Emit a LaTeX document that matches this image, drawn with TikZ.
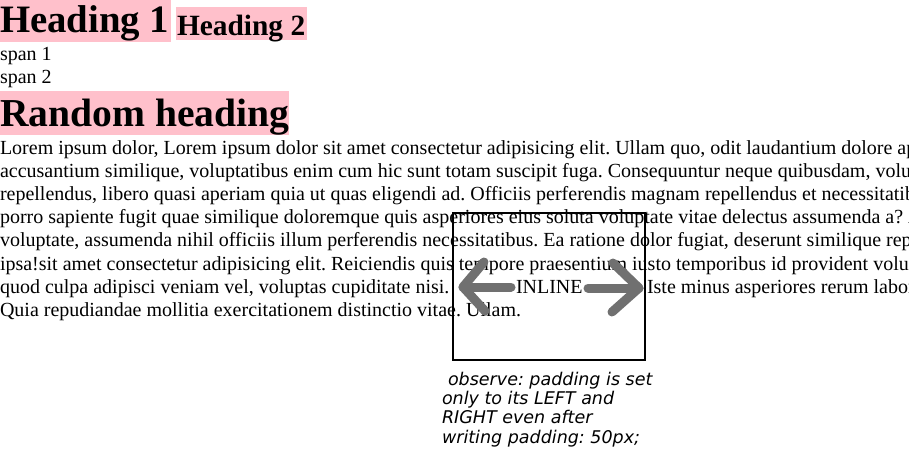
\documentclass[tikz,border=0pt]{standalone}
\usepackage{fontspec}
\setmainfont{Liberation Serif}
\newfontfamily\handfont{DejaVu Sans}
\definecolor{hdpink}{RGB}{255,192,203}
\definecolor{arrowgray}{RGB}{112,112,112}
\frenchspacing
\begin{document}
\begin{tikzpicture}[x=1pt,y=-1pt,
  txt/.style={anchor=base west,inner sep=0pt,outer sep=0pt,font=\fontsize{20}{23}\selectfont},
  hone/.style={anchor=base west,inner sep=0pt,outer sep=0pt,font=\fontsize{38.8}{44}\selectfont\bfseries},
  hrand/.style={anchor=base west,inner sep=0pt,outer sep=0pt,font=\fontsize{39.6}{44}\selectfont\bfseries},
  htwo/.style={anchor=base west,inner sep=0pt,outer sep=0pt,font=\fontsize{29.4}{33}\selectfont\bfseries},
  arr/.style={draw=arrowgray,line width=9pt,line cap=round,line join=round},
  note/.style={anchor=base west,inner sep=0pt,outer sep=0pt,font=\handfont\itshape\fontsize{17.5}{19.5}\selectfont}]
\useasboundingbox (0,0) rectangle (909,470);
\clip (0,0) rectangle (909,470);
% headings
\fill[hdpink] (0,0) rectangle (171,42);
\node[hone] (h1) at (0,33) {Heading 1};
\fill[hdpink] (176,7) rectangle (307,40);
\node[htwo] (h2) at (177,35.5) {Heading 2};
\node[txt] (s1) at (0,61) {span 1};
\node[txt] (s2) at (0,84) {span 2};
\fill[hdpink] (0,91) rectangle (289,135);
\node[hrand] (rh) at (0,127) {Random heading};
% paragraph
\node[txt] (l1) at (0,155) {Lorem ipsum dolor, Lorem ipsum dolor sit amet consectetur adipisicing elit. Ullam quo, odit laudantium dolore ap};
\node[txt] (l2) at (0,178) {accusantium similique, voluptatibus enim cum hic sunt totam suscipit fuga. Consequuntur neque quibusdam, volup};
\node[txt] (l3) at (0,201) {repellendus, libero quasi aperiam quia ut quas eligendi ad. Officiis perferendis magnam repellendus et necessitatib};
\node[txt] (l4) at (0,224) {porro sapiente fugit quae similique doloremque quis asperiores eius soluta voluptate vitae delectus assumenda a? A};
\node[txt] (l5) at (0,247) {voluptate, assumenda nihil officiis illum perferendis necessitatibus. Ea ratione dolor fugiat, deserunt similique rep};
\node[txt] (l6) at (0,270) {ipsa!sit amet consectetur adipisicing elit. Reiciendis quis tempore praesentium iusto temporibus id provident volup};
\node[txt] (l7a) at (0,293) {quod culpa adipisci veniam vel, voluptas cupiditate nisi.};
\node[txt] (inl) at (516,293) {INLINE};
\node[txt] (l7b) at (647,293) {Iste minus asperiores rerum labor};
\node[txt] (l8) at (0,316) {Quia repudiandae mollitia exercitationem distinctio vitae. Ullam.};
% inline box
\draw[line width=2pt] (453,213) rectangle (645,360);
% arrows
\draw[arr] (511,287) -- (463,287);
\draw[arr] (484,262) -- (463,287) -- (485,311);
\draw[arr] (588,288) -- (639,288);
\draw[arr] (613,263) -- (639,288) -- (612,312);
% note
\node[note] (n1) at (448,385) {observe: padding is set};
\node[note] (n2) at (442,404) {only to its LEFT and};
\node[note] (n3) at (442,423) {RIGHT even after};
\node[note] (n4) at (442,443) {writing padding: 50px;};
\end{tikzpicture}
\end{document}
